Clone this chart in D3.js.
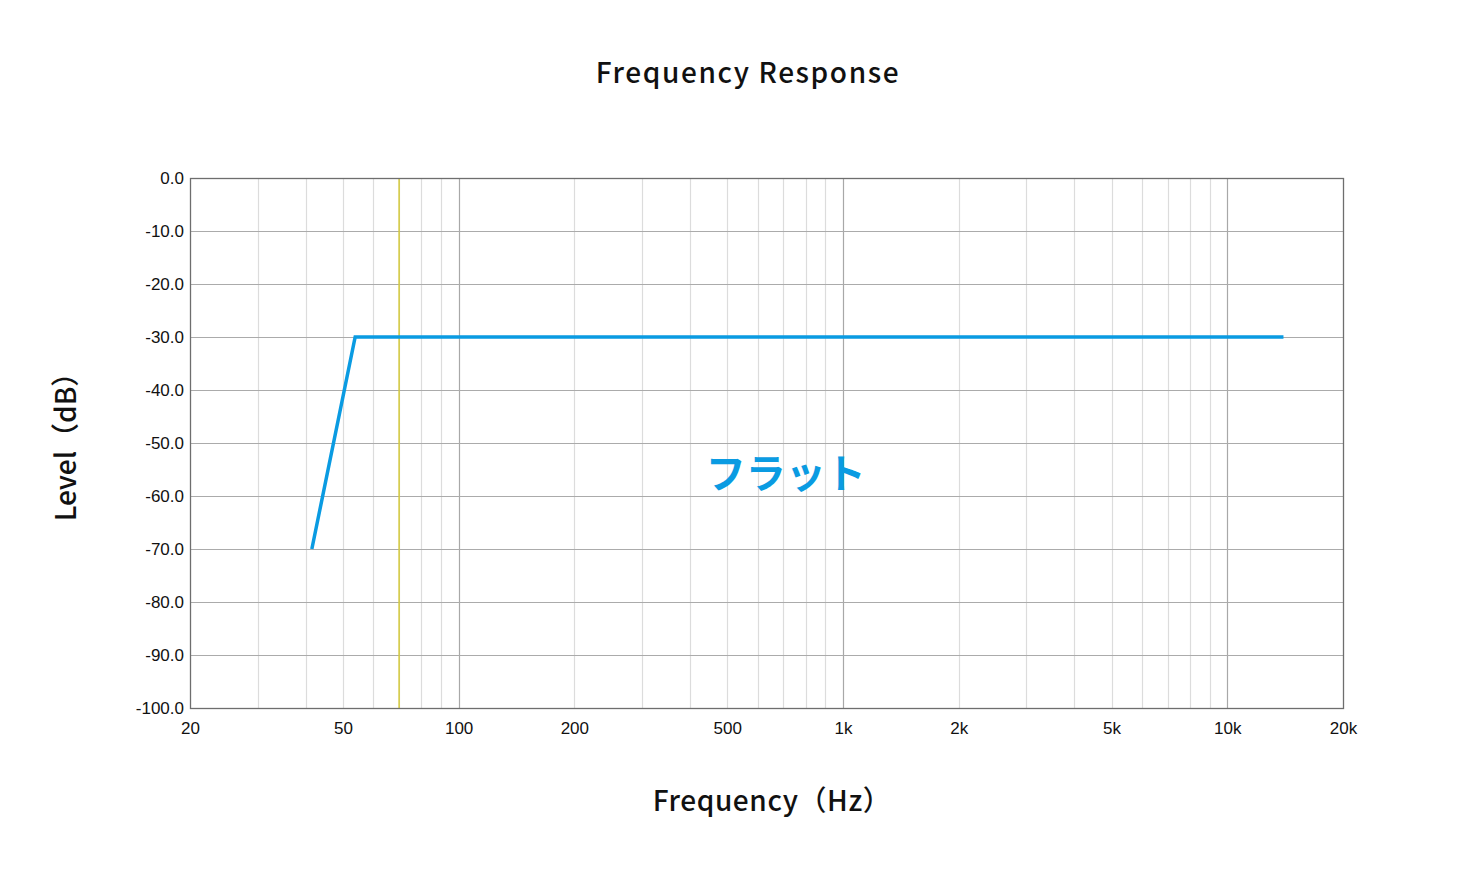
<!DOCTYPE html>
<html>
<head>
<meta charset="utf-8">
<script src="https://cdn.jsdelivr.net/npm/d3@7"></script>
<style>
  body { margin: 0; background: #fff; }
  .tick text { font-family: "Liberation Sans", Arial, sans-serif; font-size: 17px; fill: #111; }
  .lbl { font-family: "Noto Sans CJK JP", sans-serif; font-weight: 500; fill: #111; }
</style>
</head>
<body>
<div id="chart"></div>
<script>
// response curve (Hz, dB)
var freqs = [41.5, 53.8, 14000]
var levels = [-70, -30, -30]
var markerFreq = 70
var xTicks = [20, 50, 100, 200, 500, 1000, 2000, 5000, 10000, 20000]
var xTickLabels = ["20", "50", "100", "200", "500", "1k", "2k", "5k", "10k", "20k"]
var yTicks = [0, -10, -20, -30, -40, -50, -60, -70, -80, -90, -100]

var W = 1480, H = 874
var margin = {top: 178, right: 137, bottom: 166, left: 190}
var width = W - margin.left - margin.right,
    height = H - margin.top - margin.bottom

var svg = d3.select("#chart").append("svg")
  .attr("width", W).attr("height", H)

var g = svg.append("g")
  .attr("transform", "translate(" + margin.left + "," + margin.top + ")")

var x = d3.scaleLog().domain([20, 20000]).range([0, width])
var y = d3.scaleLinear().domain([-100, 0]).range([height, 0])

// minor vertical grid
var gridFreqs = []
;[10, 100, 1000, 10000].forEach(function(dec) {
  for (var k = 1; k <= 9; k++) {
    var f = dec * k
    if (f > 20 && f < 20000) gridFreqs.push(f)
  }
})

g.selectAll(".vgrid")
  .data(gridFreqs)
  .enter().append("line")
  .attr("x1", d => Math.round(x(d)) + 0.5)
  .attr("x2", d => Math.round(x(d)) + 0.5)
  .attr("y1", 0).attr("y2", height)
  .attr("stroke", d => [100, 1000, 10000].indexOf(d) >= 0 ? "#a8a8a8" : "#dcdcdc")
  .attr("stroke-width", 1.2)

g.selectAll(".hgrid")
  .data(yTicks.slice(1, -1))
  .enter().append("line")
  .attr("x1", 0).attr("x2", width)
  .attr("y1", d => Math.round(y(d)) + 0.5)
  .attr("y2", d => Math.round(y(d)) + 0.5)
  .attr("stroke", "#ababab")
  .attr("stroke-width", 1.2)

// marker
g.append("line")
  .attr("x1", x(markerFreq)).attr("x2", x(markerFreq))
  .attr("y1", 0).attr("y2", height)
  .attr("stroke", "#d4c93a").attr("stroke-width", 1.5)

// frame
g.append("rect")
  .attr("x", 0.5).attr("y", 0.5)
  .attr("width", width).attr("height", height)
  .attr("fill", "none").attr("stroke", "#6e6e6e").attr("stroke-width", 1.3)

// axes
g.append("g")
  .attr("transform", "translate(0," + height + ")")
  .call(d3.axisBottom(x).tickValues(xTicks).tickSize(0).tickPadding(14)
    .tickFormat((d, i) => xTickLabels[i]))
  .call(a => a.select(".domain").remove())

g.append("g")
  .call(d3.axisLeft(y).tickValues(yTicks).tickSize(0).tickPadding(6)
    .tickFormat(d => d.toFixed(1)))
  .call(a => a.select(".domain").remove())

// curve
var line = d3.line()
  .x((d, i) => x(freqs[i]))
  .y((d, i) => y(levels[i]))

g.append("path")
  .datum(freqs)
  .attr("d", line)
  .attr("fill", "none")
  .attr("stroke", "#0a9be2")
  .attr("stroke-width", 3.5)

g.append("text")
  .attr("x", x(710)).attr("y", y(-58.5))
  .attr("text-anchor", "middle")
  .attr("font-family", "Noto Sans CJK JP, sans-serif")
  .attr("font-weight", 700)
  .attr("font-size", 40)
  .attr("fill", "#0a9be2")
  .text("フラット")

// titles
svg.append("text").attr("class", "lbl")
  .attr("x", 748).attr("y", 83)
  .attr("text-anchor", "middle").attr("font-size", 28)
  .attr("letter-spacing", 1.6)
  .text("Frequency Response")

svg.append("text").attr("class", "lbl")
  .attr("x", 772).attr("y", 811)
  .attr("text-anchor", "middle").attr("font-size", 28)
  .attr("letter-spacing", 0.6)
  .text("Frequency（Hz）")

svg.append("text").attr("class", "lbl")
  .attr("transform", "translate(76,440) rotate(-90)")
  .attr("text-anchor", "middle").attr("font-size", 28)
  .text("Level（dB）")
</script>
</body>
</html>
